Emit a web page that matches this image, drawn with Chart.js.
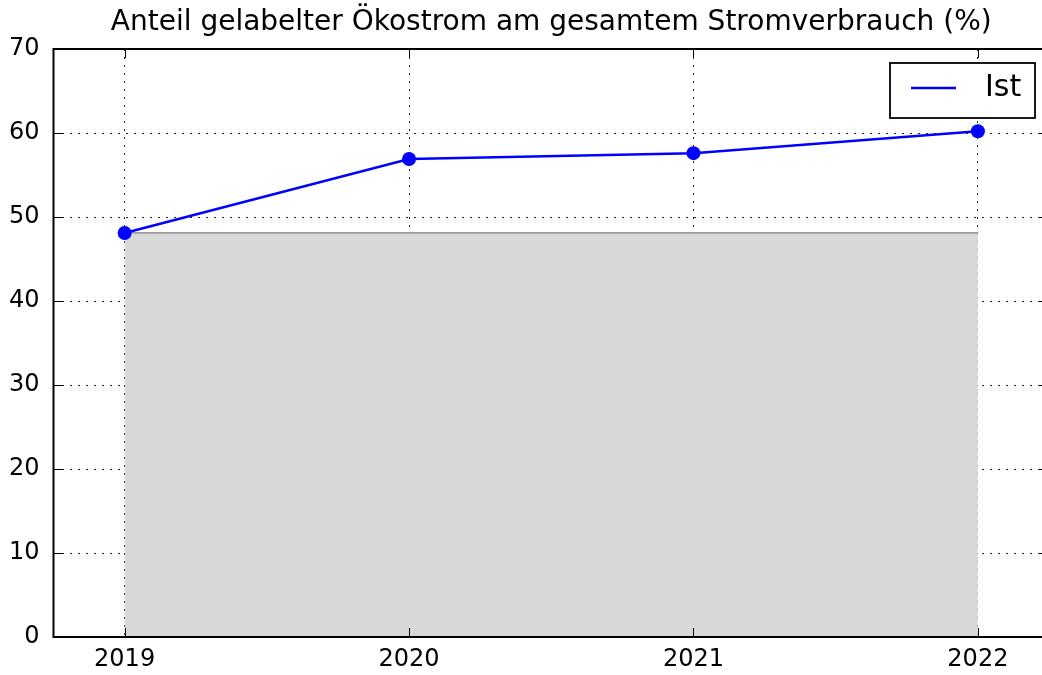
<!DOCTYPE html>
<html>
<head>
<meta charset="utf-8">
<script src="https://cdn.jsdelivr.net/npm/chart.js@4.4.1/dist/chart.umd.min.js"></script>
<style>
  html, body { margin: 0; padding: 0; background: #fff; overflow: hidden; width: 1042px; height: 675px; }
  canvas { display: block; }
</style>
</head>
<body>
<canvas id="c" width="1052" height="675"></canvas>
<script>
// ---- data ----
const chartTitle = 'Anteil gelabelter Ökostrom am gesamtem Stromverbrauch (%)';
const years = [2019, 2020, 2021, 2022];
const istLabel = 'Ist';
const istValues = [48.1, 56.9, 57.6, 60.2];
const baseValues = [48.1, 48.1, 48.1, 48.1];
const yTicks = [0, 10, 20, 30, 40, 50, 60, 70];

const FONT = "'DejaVu Sans', sans-serif";

const framePlugin = {
  id: 'frame',
  afterDraw(chart) {
    const { ctx, chartArea: a, scales } = chart;
    ctx.save();
    ctx.strokeStyle = '#000';
    ctx.lineWidth = 1;
    ctx.setLineDash([]);
    const tl = 9;
    scales.x.ticks.forEach(t => {
      const x = Math.round(scales.x.getPixelForValue(t.value)) + 0.5;
      ctx.beginPath();
      ctx.moveTo(x, a.bottom); ctx.lineTo(x, a.bottom - tl);
      ctx.moveTo(x, a.top); ctx.lineTo(x, a.top + tl);
      ctx.stroke();
    });
    scales.y.ticks.forEach(t => {
      const y = Math.round(scales.y.getPixelForValue(t.value)) + 0.5;
      ctx.beginPath();
      ctx.moveTo(a.left, y); ctx.lineTo(a.left + tl, y);
      ctx.moveTo(a.right, y); ctx.lineTo(a.right - tl, y);
      ctx.stroke();
    });
    ctx.lineWidth = 2;
    ctx.strokeRect(a.left, a.top, a.right - a.left, a.bottom - a.top);
    // legend
    const bx = 890, by = 63, bw = 145, bh = 55;
    ctx.fillStyle = '#fff';
    ctx.fillRect(bx, by, bw, bh);
    ctx.lineWidth = 1.8;
    ctx.strokeStyle = '#000';
    ctx.strokeRect(bx, by, bw, bh);
    ctx.strokeStyle = '#0000ff';
    ctx.lineWidth = 2.5;
    ctx.beginPath();
    ctx.moveTo(911, 88); ctx.lineTo(956, 88);
    ctx.stroke();
    ctx.fillStyle = '#000';
    ctx.font = '30px ' + FONT;
    ctx.textBaseline = 'alphabetic';
    ctx.textAlign = 'left';
    ctx.fillText(istLabel, 985, 96);
    ctx.restore();
  }
};

new Chart(document.getElementById('c'), {
  type: 'line',
  data: {
    datasets: [
      {
        label: istLabel,
        data: years.map((y, i) => ({ x: y, y: istValues[i] })),
        borderColor: '#0000ff',
        backgroundColor: '#0000ff',
        borderWidth: 2.5,
        pointRadius: 7,
        pointBackgroundColor: '#0000ff',
        pointBorderColor: '#0000ff',
        pointBorderWidth: 0,
        fill: false,
        tension: 0,
        order: 0
      },
      {
        label: 'base',
        data: years.map((y, i) => ({ x: y, y: baseValues[i] })),
        borderColor: '#7a7a7a',
        backgroundColor: '#d8d8d8',
        borderWidth: 1.2,
        pointRadius: 0,
        fill: 'origin',
        tension: 0,
        order: 1
      }
    ]
  },
  options: {
    responsive: false,
    animation: false,
    devicePixelRatio: 1,
    events: [],
    layout: { autoPadding: false, padding: { top: 0, left: 0, right: 3, bottom: 0 } },
    plugins: {
      legend: { display: false },
      tooltip: { enabled: false },
      title: {
        display: true,
        fullSize: false,
        text: chartTitle,
        color: '#000',
        font: { family: FONT, size: 28, weight: 'normal', lineHeight: 1.2 },
        padding: { top: 6, bottom: 9.4 }
      }
    },
    scales: {
      x: {
        type: 'linear',
        min: 2018.75,
        max: 2022.25,
        z: 1,
        afterBuildTicks: s => { s.ticks = years.map(v => ({ value: v })); },
        afterFit: s => { s.height = 38; s.paddingLeft = 0; s.paddingRight = 0; },
        grid: { color: 'rgba(0,0,0,0.85)', lineWidth: 1, drawTicks: false },
        border: { display: false, dash: [2, 6] },
        ticks: {
          color: '#000',
          font: { family: FONT, size: 24 },
          padding: 8,
          maxRotation: 0,
          callback: v => String(v)
        }
      },
      y: {
        type: 'linear',
        min: 0,
        max: 70,
        z: 1,
        afterBuildTicks: s => { s.ticks = yTicks.map(v => ({ value: v })); },
        afterFit: s => { s.width = 53.5; s.paddingTop = 0; s.paddingBottom = 0; },
        grid: { color: 'rgba(0,0,0,0.85)', lineWidth: 1, drawTicks: false },
        border: { display: false, dash: [2, 6] },
        ticks: {
          color: '#000',
          font: { family: FONT, size: 24 },
          padding: 14,
          callback: v => String(v)
        }
      }
    }
  },
  plugins: [framePlugin]
});
</script>
</body>
</html>
